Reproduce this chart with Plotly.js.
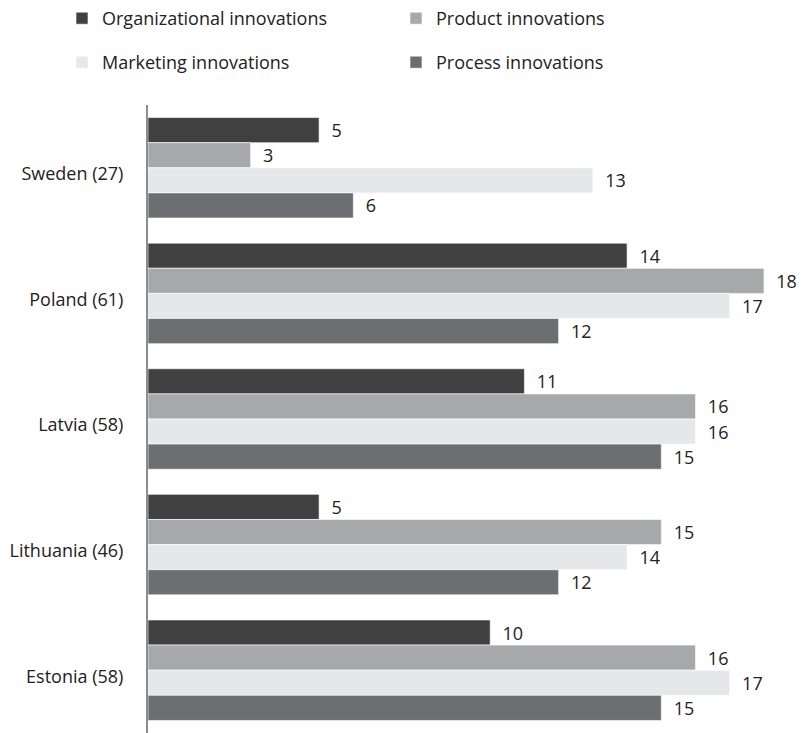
<!DOCTYPE html>
<html>
<head>
<meta charset="utf-8">
<script src="https://cdn.plot.ly/plotly-3.0.1.min.js"></script>
<style>
  html, body { margin: 0; padding: 0; background: #fff; }
  #chart { width: 801px; height: 733px; }
</style>
</head>
<body>
<div id="chart"></div>
<script>
// Countries (number of respondents in brackets)
const countries = ['Sweden (27)', 'Poland (61)', 'Latvia (58)', 'Lithuania (46)', 'Estonia (58)'];

// Number of firms reporting each innovation type
const organizational = [5, 14, 11, 5, 10];
const product        = [3, 18, 16, 15, 16];
const marketing      = [13, 17, 16, 14, 17];
const processInnov   = [6, 12, 15, 12, 15];

const seriesNames = ['Organizational innovations', 'Product innovations', 'Marketing innovations', 'Process innovations'];
const seriesValues = [organizational, product, marketing, processInnov];
const seriesColors = ['#404040', '#a7a8aa', '#e6e7e8', '#6d6e71'];
const seriesLegend = ['legend', 'legend2', 'legend3', 'legend4'];

const FONT = '"Open Sans", "Noto Sans", sans-serif';
const FSIZE = 18;

const traces = seriesNames.map((name, i) => ({
  type: 'bar',
  orientation: 'h',
  name: name,
  y: countries,
  x: seriesValues[i],
  legend: seriesLegend[i],
  marker: { color: seriesColors[i], line: { color: 'rgba(255,255,255,0.6)', width: 1 } },
  text: seriesValues[i].map(v => '\u00a0\u00a0' + v),
  textposition: 'outside',
  textfont: { family: FONT, size: FSIZE, color: '#222' },
  cliponaxis: false,
  hoverinfo: 'x+name'
}));

const plotW = 801 - 148 - 30;

// one legend box per entry, laid out as a 2 x 2 grid above the plot
function legendBox(xpx, ypx) {
  return {
    orientation: 'h',
    xref: 'container', yref: 'container',
    x: xpx / 801, y: 1 - ypx / 733, xanchor: 'left', yanchor: 'top',
    font: { family: FONT, size: FSIZE, color: '#222' },
    bgcolor: 'rgba(0,0,0,0)'
  };
}

const layout = {
  width: 801,
  height: 733,
  margin: { l: 148, r: 30, t: 105, b: 0 },
  paper_bgcolor: '#fff',
  plot_bgcolor: '#fff',
  barmode: 'group',
  bargap: 0.2,
  bargroupgap: 0,
  font: { family: FONT, size: FSIZE, color: '#222' },
  xaxis: {
    range: [0, plotW / 34.22],
    showgrid: false,
    zeroline: false,
    showticklabels: false,
    showline: false,
    ticks: ''
  },
  yaxis: {
    type: 'category',
    autorange: 'reversed',
    showgrid: false,
    zeroline: false,
    showline: true,
    linecolor: '#8c8c8c',
    linewidth: 2,
    ticks: '',
    ticklabelstandoff: 19,
    ticklabelshift: -6,
    tickfont: { family: FONT, size: FSIZE, color: '#222' }
  },
  legend: legendBox(62, 0),
  legend2: legendBox(396, 0),
  legend3: legendBox(62, 44),
  legend4: legendBox(396, 44),
  showlegend: true
};

Plotly.newPlot('chart', traces, layout, { displayModeBar: false, staticPlot: true });
</script>
</body>
</html>
